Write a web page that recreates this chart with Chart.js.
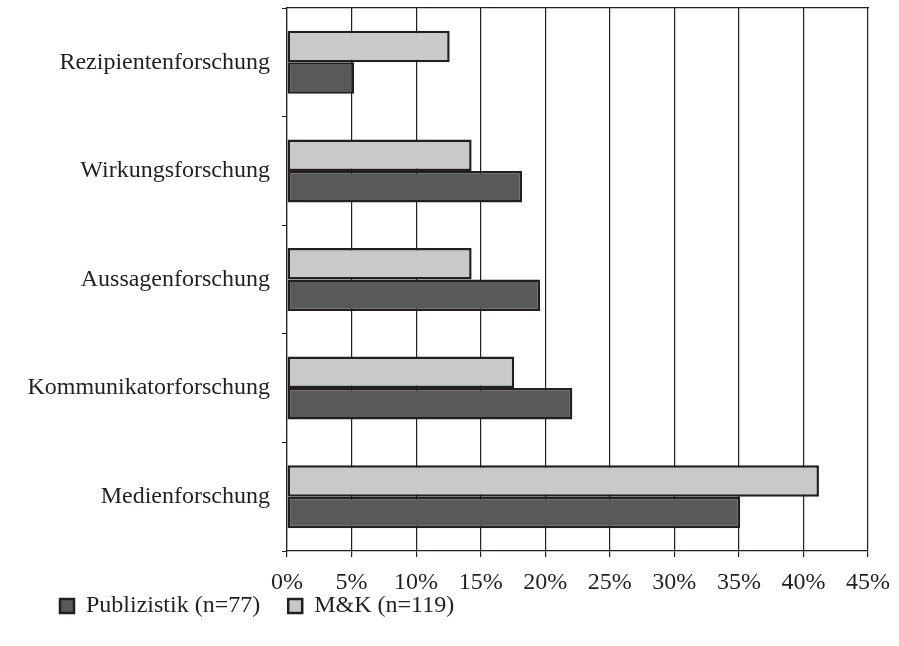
<!DOCTYPE html>
<html>
<head>
<meta charset="utf-8">
<script src="https://cdn.jsdelivr.net/npm/chart.js@4/dist/chart.umd.min.js"></script>
<style>
  html, body { margin: 0; padding: 0; background: #fff; }
  #wrap { width: 899px; height: 646px; }
</style>
</head>
<body>
<div id="wrap"><canvas id="chart"></canvas></div>
<script>
const categories = ["Rezipientenforschung", "Wirkungsforschung", "Aussagenforschung", "Kommunikatorforschung", "Medienforschung"]
const mkValues = [12.6, 14.3, 14.3, 17.6, 41.2]
const publizistikValues = [5.2, 18.2, 19.6, 22.1, 35.1]
const xTicks = [0, 5, 10, 15, 20, 25, 30, 35, 40, 45]

const ink = '#231f20'
const serif = "'Liberation Serif', 'DejaVu Serif', serif"

// legend sits at the bottom left, close under the axis labels
const legendShift = {
  id: 'legendShift',
  afterLayout(chart) {
    const l = chart.legend
    l.left += 32
    l.top -= 35
    l.bottom -= 35
  }
}

function createChart() {
  const ctx = document.getElementById('chart');
  new Chart(ctx, {
    type: 'bar',
    data: {
      labels: categories,
      datasets: [{
        label: "M&K (n=119)",
        data: mkValues,
        backgroundColor: '#c8c9cb',
        borderColor: ink,
        borderWidth: 2.5,
        borderSkipped: false
      }, {
        label: "Publizistik (n=77)",
        data: publizistikValues,
        backgroundColor: '#58595b',
        borderColor: ink,
        borderWidth: 2.5,
        borderSkipped: false
      }]
    },
    options: {
      indexAxis: 'y',
      responsive: true,
      maintainAspectRatio: false,
      animation: false,
      categoryPercentage: 0.58,
      barPercentage: 1,
      layout: { padding: { left: 0, top: 8, right: 0, bottom: -17 } },
      scales: {
        x: {
          min: 0,
          max: 45,
          afterBuildTicks: scale => { scale.ticks = xTicks.map(v => ({ value: v })) },
          afterFit: scale => {
            scale.height = 50
            scale.paddingLeft = 0
            scale.paddingRight = 31
          },
          grid: { color: ink, lineWidth: 1.2, tickLength: 6 },
          border: { color: ink, width: 1.2 },
          ticks: {
            color: ink,
            padding: 11,
            font: { family: serif, size: 24 },
            callback: v => v + '%'
          }
        },
        x2: {
          position: 'top',
          min: 0,
          max: 45,
          afterFit: scale => { scale.height = 0 },
          grid: { drawOnChartArea: false, drawTicks: false },
          border: { color: ink, width: 1.2 },
          ticks: { display: false }
        },
        y: {
          offset: true,
          afterFit: scale => {
            scale.width = 287
            scale.paddingTop = 0
            scale.paddingBottom = 0
          },
          grid: { offset: true, drawOnChartArea: false, color: ink, tickLength: 5 },
          border: { color: ink, width: 1.2 },
          ticks: {
            color: ink,
            padding: 12,
            font: { family: serif, size: 24 }
          }
        }
      },
      plugins: {
        legend: {
          position: 'bottom',
          align: 'start',
          reverse: true,
          labels: {
            color: ink,
            boxWidth: 14,
            boxHeight: 14,
            padding: 28,
            font: { family: serif, size: 24 }
          }
        },
        tooltip: { enabled: false }
      }
    },
    plugins: [legendShift]
  });
}

createChart()
</script>
</body>
</html>
